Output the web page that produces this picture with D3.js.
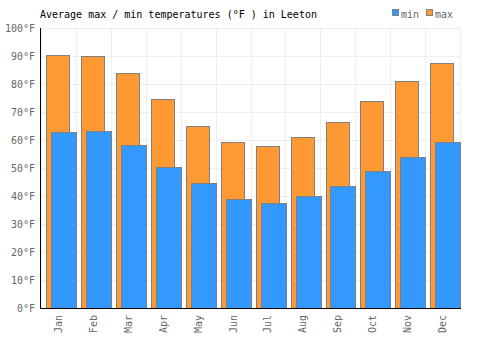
<!DOCTYPE html>
<html>
<head>
<meta charset="utf-8">
<script src="https://cdn.jsdelivr.net/npm/d3@7"></script>
<style>
  body { margin: 0; background: #fff; }
  text { font-family: "DejaVu Sans Mono", monospace; }
</style>
</head>
<body>
<div id="chart"></div>
<script>
// Leeton monthly temps (°F)
const months = ["Jan", "Feb", "Mar", "Apr", "May", "Jun", "Jul", "Aug", "Sep", "Oct", "Nov", "Dec"];
const maxTemps = [90.4, 90.1, 83.8, 74.8, 65.1, 59.2, 57.7, 61.0, 66.6, 73.9, 81.2, 87.6];
const minTemps = [62.7, 63.1, 58.2, 50.2, 44.6, 38.8, 37.4, 39.9, 43.5, 48.8, 53.8, 59.2];
const yTicks = [0, 10, 20, 30, 40, 50, 60, 70, 80, 90, 100];

const width = 500, height = 350;
const margin = { top: 28, right: 40, bottom: 42, left: 41 };

const svg = d3.select("#chart")
  .append("svg")
  .attr("width", width)
  .attr("height", height);

const x = d3.scaleBand()
  .domain(months)
  .range([margin.left, width - margin.right]);

const y = d3.scaleLinear()
  .domain([0, 100])
  .range([height - margin.bottom, margin.top]);

// grid
svg.append("g")
  .selectAll("line.h")
  .data(yTicks)
  .join("line")
  .attr("x1", margin.left).attr("x2", width - margin.right)
  .attr("y1", d => Math.round(y(d)) + 0.5).attr("y2", d => Math.round(y(d)) + 0.5)
  .attr("stroke", "#eeeeee");

svg.append("g")
  .selectAll("line.v")
  .data(months.concat(["end"]))
  .join("line")
  .attr("x1", d => Math.round(d === "end" ? x.range()[1] : x(d)) + 0.5)
  .attr("x2", d => Math.round(d === "end" ? x.range()[1] : x(d)) + 0.5)
  .attr("y1", margin.top).attr("y2", height - margin.bottom)
  .attr("stroke", "#eeeeee");

const bw = x.bandwidth();

// max bars
svg.append("g")
  .selectAll("rect")
  .data(maxTemps)
  .join("rect")
  .attr("x", (d, i) => Math.round(x(months[i]) + bw * 0.15) + 0.5)
  .attr("y", d => Math.round(y(d)) + 0.5)
  .attr("width", Math.round(bw * 0.66))
  .attr("height", d => Math.round(y(0)) - Math.round(y(d)))
  .attr("fill", "#ff9933")
  .attr("stroke", "#808080");

// min bars
svg.append("g")
  .selectAll("rect")
  .data(minTemps)
  .join("rect")
  .attr("x", (d, i) => Math.round(x(months[i]) + bw * 0.29) + 0.5)
  .attr("y", d => Math.round(y(d)) + 0.5)
  .attr("width", Math.round(bw * 0.71))
  .attr("height", d => Math.round(y(0)) - Math.round(y(d)))
  .attr("fill", "#3399ff")
  .attr("stroke", "#808080");

// y axis labels
svg.append("g")
  .selectAll("text")
  .data(yTicks)
  .join("text")
  .attr("x", margin.left - 6)
  .attr("y", d => y(d))
  .attr("dy", "0.35em")
  .attr("text-anchor", "end")
  .attr("font-size", 10)
  .attr("fill", "#666")
  .text(d => d + "°F");

// x labels
svg.append("g")
  .selectAll("text")
  .data(months)
  .join("text")
  .attr("transform", d => `translate(${x(d) + bw / 2},${y(0) + 7}) rotate(-90)`)
  .attr("dy", "0.35em")
  .attr("text-anchor", "end")
  .attr("font-size", 10)
  .attr("fill", "#666")
  .text(d => d);

// axis lines
svg.append("line")
  .attr("x1", margin.left - 0.5).attr("x2", margin.left - 0.5)
  .attr("y1", margin.top).attr("y2", Math.round(y(0)) + 1)
  .attr("stroke", "#000");
svg.append("line")
  .attr("x1", margin.left - 1).attr("x2", width - margin.right + 1)
  .attr("y1", Math.round(y(0)) + 0.5).attr("y2", Math.round(y(0)) + 0.5)
  .attr("stroke", "#000");

// title
svg.append("text")
  .attr("x", margin.left - 1)
  .attr("y", 18)
  .attr("font-size", 10)
  .attr("fill", "#000")
  .text("Average max / min temperatures (°F ) in Leeton");

// legend
const legend = [{ name: "min", color: "#3399ff", x: 392 }, { name: "max", color: "#ff9933", x: 426 }];
const lg = svg.append("g")
  .selectAll("g")
  .data(legend)
  .join("g")
  .attr("transform", d => `translate(${d.x},0)`);
lg.append("rect")
  .attr("x", 0.5).attr("y", 9.5)
  .attr("width", 6).attr("height", 6)
  .attr("fill", d => d.color)
  .attr("stroke", "#808080");
lg.append("text")
  .attr("x", 9)
  .attr("y", 18)
  .attr("font-size", 10)
  .attr("fill", "#666")
  .text(d => d.name);
</script>
</body>
</html>
